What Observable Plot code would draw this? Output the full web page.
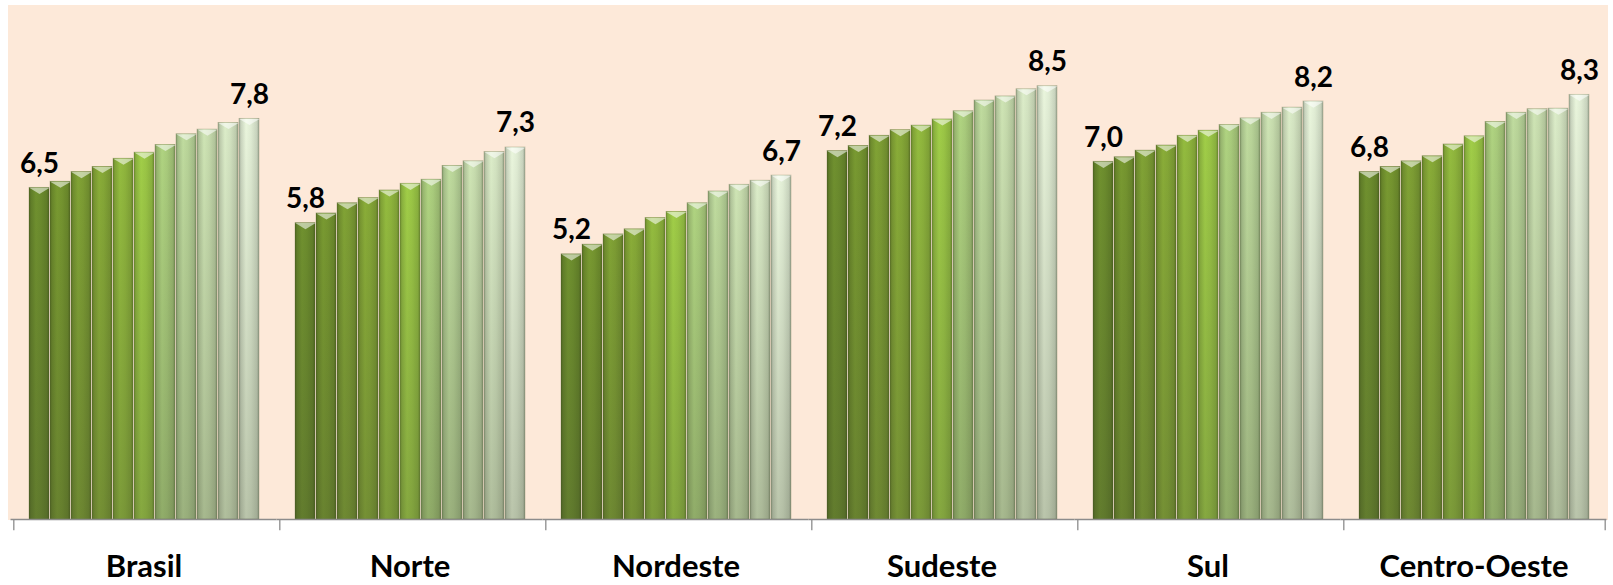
<!DOCTYPE html>
<html>
<head>
<meta charset="utf-8">
<script src="https://cdn.jsdelivr.net/npm/d3@7"></script>
<script src="https://cdn.jsdelivr.net/npm/@observablehq/plot@0.6"></script>
<style>
  html, body { margin: 0; padding: 0; background: #ffffff; }
  #wrap { position: relative; width: 1613px; height: 585px; overflow: hidden; }
  #bg { position: absolute; left: 8px; top: 5px; width: 1600px; height: 515px; background: #fde9d9; }
  #chart { position: absolute; left: 0; top: 0; }
</style>
</head>
<body>
<div id="wrap"><div id="bg"></div><div id="chart"></div></div>
<script>
// ---- data ----
const regions = ["Brasil", "Norte", "Nordeste", "Sudeste", "Sul", "Centro-Oeste"];
const periods = ["1", "2", "3", "4", "5", "6", "7", "8", "9", "10", "11"];
const brasil      = [6.49, 6.61, 6.80, 6.90, 7.06, 7.18, 7.33, 7.54, 7.63, 7.76, 7.84];
const norte       = [5.80, 5.99, 6.19, 6.29, 6.44, 6.57, 6.65, 6.92, 7.01, 7.19, 7.28];
const nordeste    = [5.19, 5.38, 5.58, 5.68, 5.90, 6.02, 6.19, 6.42, 6.55, 6.63, 6.73];
const sudeste     = [7.21, 7.31, 7.51, 7.62, 7.71, 7.83, 7.99, 8.20, 8.28, 8.42, 8.48];
const sul         = [7.00, 7.09, 7.22, 7.32, 7.51, 7.61, 7.72, 7.85, 7.96, 8.06, 8.18];
const centroOeste = [6.80, 6.90, 7.01, 7.11, 7.34, 7.50, 7.78, 7.96, 8.03, 8.04, 8.31];
const series = [brasil, norte, nordeste, sudeste, sul, centroOeste];
const barColors = ["#6b8b2d", "#74942f", "#7c9c33", "#84a636", "#8eb43c", "#9ac545",
                   "#a9cb7c", "#b8d398", "#c6dbad", "#d3e3c1", "#e0ecd4"];

const rows = regions.flatMap((r, ri) => series[ri].map((v, pi) => ({region: r, period: periods[pi], idx: pi, value: v})));
const endLabels = rows.filter(d => d.idx === 0 || d.idx === periods.length - 1);
const fmt = v => d3.format(".1f")(v).replace(".", ",");

// ---- gradients ----
const defs = d3.select("body").append("svg").attr("width", 0).attr("height", 0)
  .style("position", "absolute").append("defs");
barColors.forEach((c, i) => {
  const g = defs.append("linearGradient").attr("id", "bar" + i)
    .attr("x1", 0).attr("x2", 1).attr("y1", 0).attr("y2", 0);
  const col = d3.color(c);
  [[0, col.darker(0.9)], [0.1, col.darker(0.3)], [0.35, col.brighter(0.12)],
   [0.6, col], [0.88, col.darker(0.3)], [1, col.darker(0.9)]]
    .forEach(([o, cc]) => g.append("stop").attr("offset", o).attr("stop-color", cc.formatHex()));
});
const vs = defs.append("linearGradient").attr("id", "vshade")
  .attr("x1", 0).attr("x2", 0).attr("y1", 0).attr("y2", 1);
vs.append("stop").attr("offset", 0).attr("stop-color", "#40482c").attr("stop-opacity", 0);
vs.append("stop").attr("offset", 1).attr("stop-color", "#40482c").attr("stop-opacity", 0.28);

// ---- layout ----
const W = 1613, H = 585, ML = 9, MR = 4, MT = 8, MB = 66;
const fxPadIn = 0.116, fxPadOut = 0.058, xPadIn = 0.05;
const fxStep = (W - ML - MR) / (regions.length - fxPadIn + 2 * fxPadOut);
const gap = fxStep * fxPadIn;
const facetW = fxStep * (1 - fxPadIn);
const xStep = facetW / (periods.length - xPadIn);
const xBW = xStep * (1 - xPadIn);
const tickOff = xBW / 2 + gap / 2;

const vSym = {
  draw(ctx, size) {
    const r = Math.sqrt(size / Math.PI);
    ctx.moveTo(-r, 0); ctx.lineTo(r, 0); ctx.lineTo(0, r * 0.6); ctx.closePath();
  }
};

const barMarks = periods.map((p, i) =>
  Plot.barY(rows.filter(d => d.idx === i), {fx: "region", x: "period", y: "value", fill: `url(#bar${i})`}));

const chart = Plot.plot({
  width: W, height: H, marginLeft: ML, marginRight: MR, marginTop: MT, marginBottom: MB,
  style: {background: "transparent", overflow: "visible"},
  fx: {domain: regions, paddingInner: fxPadIn, paddingOuter: fxPadOut, axis: null, label: null},
  x: {domain: periods, paddingInner: xPadIn, paddingOuter: 0, axis: null},
  y: {domain: [0, 10], axis: null},
  marks: [
    ...barMarks,
    Plot.barY(rows, {fx: "region", x: "period", y: "value", fill: "url(#vshade)",
      stroke: "#4a5a28", strokeOpacity: 0.3, strokeWidth: 0.8}),
    Plot.dot(rows, {fx: "region", x: "period", y: "value", symbol: vSym, r: xBW / 2,
      fill: "#ffffff", fillOpacity: 0.55, stroke: "none"}),
    Plot.ruleY(regions, {fx: d => d, y: () => 0, insetLeft: -gap / 2, insetRight: -gap / 2,
      stroke: "#8c8c8c", strokeWidth: 1.3}),
    Plot.ruleX(regions, {fx: d => d, x: () => periods[0], y1: () => 0, y2: () => -0.22,
      dx: -tickOff, stroke: "#8c8c8c", strokeWidth: 1.3}),
    Plot.ruleX([regions[regions.length - 1]], {fx: d => d, x: () => periods[periods.length - 1],
      y1: () => 0, y2: () => -0.22, dx: tickOff, stroke: "#8c8c8c", strokeWidth: 1.3}),
    Plot.text(endLabels, {fx: "region", x: "period", y: "value", text: d => fmt(d.value),
      dy: -15, lineAnchor: "bottom", fontSize: 28, fontWeight: "bold",
      fontFamily: "Lato, 'Open Sans', sans-serif", fill: "#000000"}),
    Plot.text(regions, {fx: d => d, frameAnchor: "bottom", text: d => d, dy: 48,
      lineAnchor: "middle", fontSize: 31, fontWeight: "bold",
      fontFamily: "Lato, 'Open Sans', sans-serif", fill: "#000000"})
  ]
});
document.getElementById("chart").appendChild(chart);
</script>
</body>
</html>
